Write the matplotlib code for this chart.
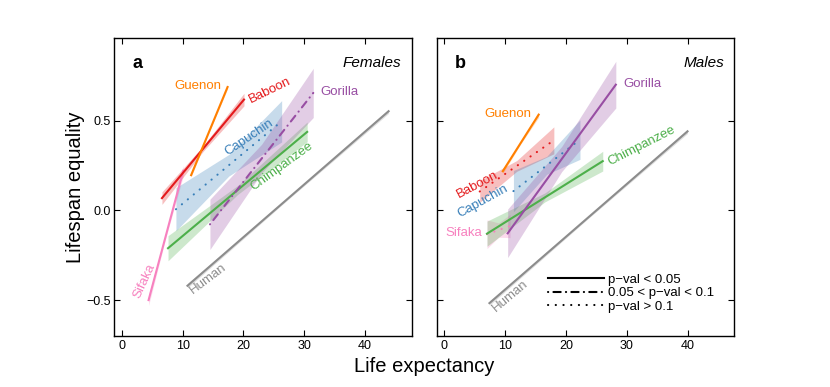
import numpy as np
import matplotlib
matplotlib.use('Agg')
import matplotlib.pyplot as plt
from matplotlib.lines import Line2D

plt.rcParams['font.family'] = ['Liberation Sans', 'DejaVu Sans']

SPECIES = ['Sifaka', 'Baboon', 'Guenon', 'Capuchin', 'Chimpanzee', 'Gorilla', 'Human']
COLORS = ['#F781BF', '#E41A1C', '#FF7F00', '#377EB8', '#4DAF4A', '#984EA3', '#8C8C8C']

# females: fitted line ends (life expectancy, lifespan equality) and CI half-width at start/mid/end
F_X0 = [4.4, 6.6, 11.4, 8.9, 7.6, 14.5, 10.8]
F_X1 = [10.1, 20.1, 17.4, 26.3, 30.5, 31.5, 43.9]
F_Y0 = [-0.50, 0.068, 0.196, 0.006, -0.211, -0.078, -0.42]
F_Y1 = [0.22, 0.617, 0.687, 0.496, 0.437, 0.654, 0.552]
F_HW = [[0.03, 0.012, 0.03], [0.035, 0.015, 0.035], [0.01, 0.005, 0.01],
        [0.12, 0.06, 0.115], [0.07, 0.025, 0.055], [0.14, 0.08, 0.137],
        [0.012, 0.006, 0.012]]
F_PVAL = ['sig', 'sig', 'sig', 'ns', 'sig', 'marg', 'sig']
F_LAB_X = [3.7, 24.4, 12.5, 21.0, 26.3, 35.8, 14.25]
F_LAB_Y = [-0.393, 0.668, 0.694, 0.404, 0.246, 0.657, -0.38]
F_LAB_ROT = [65, 26, 0, 34, 36, 0, 37]

# males
M_X0 = [7.0, 5.8, 9.6, 11.35, 7.0, 10.4, 7.4]
M_X1 = [10.8, 18.0, 15.5, 22.3, 26.05, 28.2, 40.0]
M_Y0 = [-0.133, 0.105, 0.218, 0.107, -0.13, -0.128, -0.517]
M_Y1 = [-0.087, 0.39, 0.533, 0.394, 0.274, 0.70, 0.44]
M_HW = [[0.08, 0.04, 0.065], [0.06, 0.03, 0.075], [0.012, 0.006, 0.015],
        [0.115, 0.05, 0.11], [0.07, 0.025, 0.055], [0.135, 0.07, 0.13],
        [0.012, 0.006, 0.012]]
M_PVAL = ['ns', 'ns', 'sig', 'ns', 'sig', 'sig', 'sig']
M_LAB_X = [3.1, 5.5, 10.5, 6.3, 32.5, 32.5, 10.8]
M_LAB_Y = [-0.128, 0.144, 0.539, 0.052, 0.357, 0.704, -0.476]
M_LAB_ROT = [0, 28, 0, 29, 27, 0, 40]

X_TICKS = [0, 10, 20, 30, 40]
Y_TICKS = [-0.5, 0.0, 0.5]

STYLES = {
    'sig': dict(linestyle='-'),
    'marg': dict(linestyle=(0, (0.1, 2.5, 3.5, 2.5)), dash_capstyle='round'),
    'ns': dict(linestyle=(0, (0.1, 3.6)), dash_capstyle='round'),
}


def draw_panel(ax, x0s, x1s, y0s, y1s, hws, pvals, lx, ly, lrot, letter, title):
    for i, sp in enumerate(SPECIES):
        c = COLORS[i]
        xs = np.array([x0s[i], (x0s[i] + x1s[i]) / 2, x1s[i]])
        ys = np.array([y0s[i], (y0s[i] + y1s[i]) / 2, y1s[i]])
        hw = np.array(hws[i])
        ax.fill_between(xs, ys - hw, ys + hw, color=c, alpha=0.28, lw=0)
        ax.plot([x0s[i], x1s[i]], [y0s[i], y1s[i]], color=c, lw=1.5, **STYLES[pvals[i]])
        ax.text(lx[i], ly[i], sp, color=c, fontsize=9.5, rotation=lrot[i],
                rotation_mode='anchor', ha='center', va='center')
    ax.set_xlim(-1.3, 47.7)
    ax.set_ylim(-0.70, 0.96)
    ax.set_xticks(X_TICKS)
    ax.set_yticks(Y_TICKS)
    ax.tick_params(direction='in', length=4, width=0.8, top=True, right=True, labelsize=9)
    ax.tick_params(axis='x', pad=3)
    ax.tick_params(axis='y', pad=2)
    for s in ax.spines.values():
        s.set_linewidth(1.0)
    ax.text(0.08, 0.915, letter, transform=ax.transAxes, fontsize=13, fontweight='bold',
            ha='center', va='center')
    ax.text(0.965, 0.915, title, transform=ax.transAxes, fontsize=11, style='italic',
            ha='right', va='center')


fig = plt.figure(figsize=(8.3, 3.87), dpi=100)
ax1 = fig.add_axes([0.1373, 0.1318, 0.3587, 0.770])
ax2 = fig.add_axes([0.526, 0.1318, 0.3587, 0.770])

draw_panel(ax1, F_X0, F_X1, F_Y0, F_Y1, F_HW, F_PVAL, F_LAB_X, F_LAB_Y, F_LAB_ROT, 'a', 'Females')
draw_panel(ax2, M_X0, M_X1, M_Y0, M_Y1, M_HW, M_PVAL, M_LAB_X, M_LAB_Y, M_LAB_ROT, 'b', 'Males')
ax1.set_yticklabels([f'{v:.1f}'.replace('-', '\u2212') for v in Y_TICKS])
ax2.set_yticklabels([])

handles = [Line2D([], [], color='black', lw=1.5, **STYLES[k]) for k in ['sig', 'marg', 'ns']]
labels = ['p\u2212val < 0.05', '0.05 < p\u2212val < 0.1', 'p\u2212val > 0.1']
ax2.legend(handles, labels, loc='upper left', bbox_to_anchor=(0.375, 0.21), frameon=False,
           fontsize=9.5, handlelength=4.2, handletextpad=0.3, labelspacing=0.1,
           borderpad=0, borderaxespad=0)

fig.text(75 / 830, 0.5167, 'Lifespan equality', rotation=90, fontsize=14.5, ha='center', va='center')
fig.text(424 / 830, 0.052, 'Life expectancy', fontsize=14.5, ha='center', va='center')

fig.savefig('out.png', dpi=100)
